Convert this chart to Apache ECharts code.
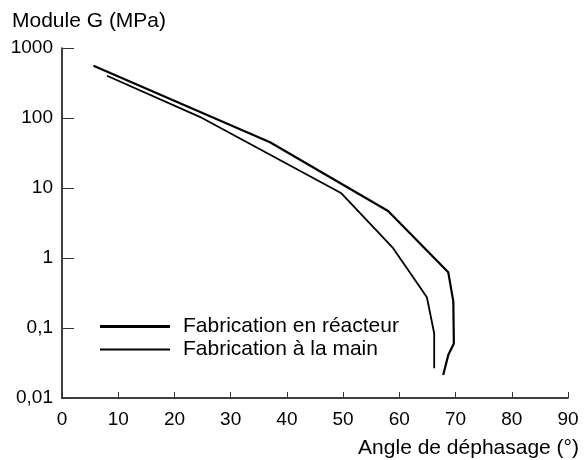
<!DOCTYPE html>
<html><head><meta charset="utf-8">
<script src="https://cdn.jsdelivr.net/npm/echarts@6/dist/echarts.min.js"></script>
<style>html,body{margin:0;padding:0;background:#fff}#c{width:584px;height:460px}</style>
</head><body><div id="c"></div>
<script>
const xTicks = [0,10,20,30,40,50,60,70,80,90];
const yTicks = [0.01,0.1,1,10,100,1000];
const yTickLabels = ['0,01','0,1','1','10','100','1000'];
const reacteurAngle = [5.6, 37.0, 58.0, 68.7, 69.6, 69.7, 68.7, 67.8];
const reacteurG     = [558, 45, 4.7, 0.625, 0.24, 0.060, 0.041, 0.0213];
const mainAngle = [8.0, 24.5, 49.7, 58.9, 64.9, 66.2, 66.2];
const mainG     = [402, 104, 8.4, 1.38, 0.275, 0.084, 0.0266];
const names = ['Fabrication en réacteur','Fabrication à la main'];

const FONT = 'Liberation Sans, Arial, sans-serif';
const chart = echarts.init(document.getElementById('c'));
const pair = (xs, ys) => xs.map((x,i)=>[x, ys[i]]);
chart.setOption({
  animation:false,
  backgroundColor:'#fff',
  title:[
    {text:'Module G (MPa)', left:7, top:6, textStyle:{fontFamily:FONT, fontSize:21, fontWeight:'normal', color:'#000'}},
    {text:'Angle de déphasage (°)', right:0, top:433, textStyle:{fontFamily:FONT, fontSize:21, fontWeight:'normal', color:'#000'}}
  ],
  grid:{left:62, right:16, top:48, bottom:62},
  legend:[
    {data:[names[0]], left:95, top:311, icon:'rect', itemWidth:70, itemHeight:3,
     textStyle:{fontFamily:FONT, fontSize:21, color:'#000', padding:[0,0,0,8]}},
    {data:[names[1]], left:95, top:334, icon:'rect', itemWidth:70, itemHeight:2,
     textStyle:{fontFamily:FONT, fontSize:21, color:'#000', padding:[0,0,0,8]}}
  ],
  xAxis:{type:'value', min:0, max:90, interval:10,
    axisLine:{lineStyle:{color:'#000', width:1.5}},
    axisTick:{inside:true, length:6, lineStyle:{color:'#333'}},
    axisLabel:{fontFamily:FONT, fontSize:19, color:'#000', margin:12,
      formatter:v=> xTicks.includes(v) ? String(v) : ''},
    splitLine:{show:false}},
  yAxis:{type:'log', logBase:10, min:0.01, max:1000,
    axisLine:{show:true, lineStyle:{color:'#000', width:1.5}},
    axisTick:{show:true, inside:true, length:12, lineStyle:{color:'#333'}},
    minorTick:{show:false},
    axisLabel:{fontFamily:FONT, fontSize:19, color:'#000', margin:9,
      formatter:v=>{ const i = yTicks.findIndex(t=>Math.abs(Math.log10(t)-Math.log10(v))<1e-6); return i>=0 ? yTickLabels[i] : ''; }},
    splitLine:{show:false}},
  series:[
    {name:names[0], type:'line', data:pair(reacteurAngle, reacteurG), symbol:'none',
     lineStyle:{color:'#000', width:2.2}, itemStyle:{color:'#000'}},
    {name:names[1], type:'line', data:pair(mainAngle, mainG), symbol:'none',
     lineStyle:{color:'#000', width:1.8}, itemStyle:{color:'#000'}}
  ]
});
</script></body></html>
